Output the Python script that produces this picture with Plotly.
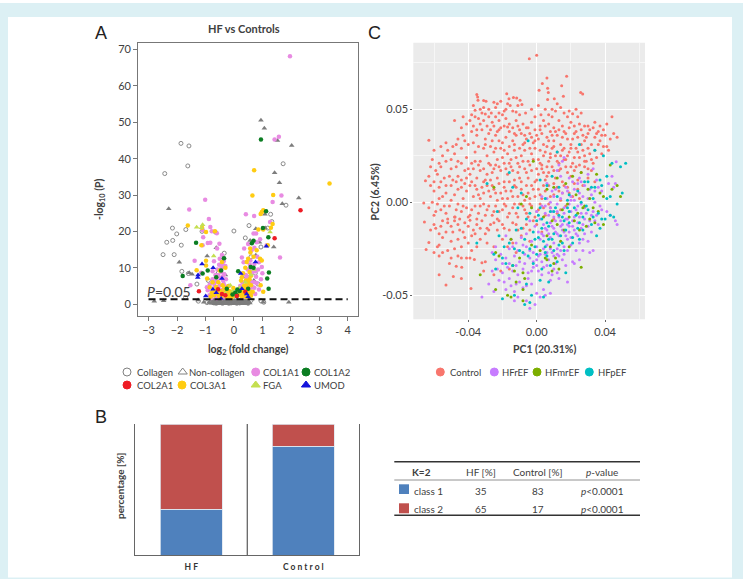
import plotly.graph_objects as go

W, H = 743, 579

# Volcano plot: (log2 fold change, -log10 P) per protein group
COLLAGEN = [(-1.86,44.2),(-1.58,43.5),(-1.62,38),(-2.43,35.9),(1.73,38.6),(1.83,27.2),(1.29,24.7),(.53,21.6),(0,20.1),(-2.16,20.9),
    (-2.01,19.3),(-1.69,20.5),(-2.15,17.5),(-2.36,17),(-1.85,16.2),(-2.1,13.6),(-2.49,13.6),(-1.83,9),(-1.12,20),(-.65,19.8),
    (-.34,14),(.4,18.2),(.95,15.7),(1.03,20.7),(1.19,20.9),(1.33,22.7),(-1.6,8.4),(-1.3,5.5),(-.9,6.5),(-.55,8.5),(-.35,12.5),
    (.6,13),(.75,8.5),(.85,5.5),(.5,4.5),(-1.7,1.8),(-1.25,.8),(-.95,.4),(.95,.9),(1.05,.5),(-.7,.3),(-.55,.9),(-.4,.2),(-.25,.7),
    (-.1,.3),(.05,.8),(.2,.3),(.35,.6),(.5,.2),(.6,1),(-.8,.8),(-.62,.2),(-.48,.5),(-.32,.9),(-.18,.2),(-.05,.6),(.1,.2),(.25,.8),(.42,.4)]
NON_COLLAGEN = [(.95,50.6),(1.07,48.4),(1.53,45),(2.03,43.6),(1.43,36.1),(1.6,33.4),(2.28,29.2),(-2.29,26.2),(1.7,27.6),(-1.92,11.5),
    (-1.57,8.6),(-1.47,8.2),(-.94,13.2),(-.62,15.5),(1.4,15.7),(1.09,24.7),(.77,20.7),(-2.8,.8),(-2.47,.9),(1.93,.5),(1.03,.5),
    (-1.06,.5),(-.88,.4),(-1.26,1.1),(-.6,6.6),(-.3,8),(.77,13.4),(.57,17.5),(1.1,20.9),(.9,17),(.7,6.5),(.3,7.5),(-.75,3.5),(-.2,5),
    (-.78,.2),(-.66,.6),(-.52,.2),(-.42,.8),(-.28,.4),(-.14,.9),(-.02,.2),(.12,.6),(.28,.2),(.38,.9),(.52,.6),(-.72,1),(-.58,.5),(-.36,.3),
    (-.22,1),(-.08,.5),(.02,1),(.16,.9),(.32,.4),(.46,.9),(-.84,.3),(-.45,.1),(.18,.1),(.56,.3),
    (-.75,.6),(-.68,.1),(-.6,.9),(-.54,.4),(-.46,.9),(-.4,.4),(-.34,.1),(-.3,.7),(-.24,.2),(-.2,.6),(-.16,.1),(-.12,.5),(-.06,1),(-.04,.1),
    (0,.5),(.04,.2),(.08,.9),(.14,.3),(.2,.6),(.24,.1),(.3,.7),(.36,.2),(.4,.6),(.44,.1),(.48,.5),(-.7,.7),(-.64,.3),(-.5,.7),(-.44,.5),(-.38,.6),(-.26,.1),(-.1,.8),(.06,.6),(.22,.4),(.34,.1),
    (-.76,1.1),(-.56,1.2),(-.32,1.2),(-.14,1.2),(.1,1.2),(.26,1.2),(.42,1.2),(-.66,1.2),(-.48,1),(-.2,1),(0,.8),(.2,1),(.5,.9),
    (-.72,.3),(-.67,.9),(-.62,.5),(-.57,.1),(-.53,.8),(-.49,.2),(-.43,.3),(-.39,.9),(-.35,.5),(-.31,.1),(-.27,.9),(-.23,.5),(-.19,.3),(-.15,.7),(-.11,.1),(-.07,.3),(-.03,.7),(.01,.3),(.03,.6),(.07,.1),
    (.11,.4),(.15,.7),(.19,.2),(.23,.7),(.27,.4),(.31,.1),(.35,.8),(.39,.3),(.43,.7),(.47,.2),(.51,.4),(-.74,.8),(-.69,.4),(-.59,.7),(-.51,.4),(-.41,.1),(-.33,.6),(-.25,.4),(-.17,.5),(-.09,.2),(.09,.4),(.17,.5),(.25,.2),(.33,.7),(.41,.1),
    (-.64,.8),(-.55,.2),(-.47,.7),(-.37,.2),(-.29,.3),(-.21,.8),(-.13,.3),(-.01,.9),(.13,.1),(.21,.8),(.29,.5),(.37,.5),(.45,.6)]
COL1A1 = [(1.97,68.2),(1.43,45.3),(1.58,46),(-1.01,28.7),(1.67,29.9),(1.36,28.1),(-1.57,26),(.42,24.7),(.71,24.2),(-.88,23.4),(-.83,21.2),
    (-1.09,20.3),(-.6,19.5),(-.78,20),(-1.08,18.4),(-.83,16.9),(-.51,16.6),(-.59,15.3),(-.92,16.8),(-1.1,16.2),(1.62,12.8),(-1.38,11.9),(-1.53,5.2),
    (1.27,22.6),(.69,19.4),(.78,19.4),(.36,15.3),(.92,17.8),(.8,17),(1.15,16.2),(.5,16.5),(.62,14.8),(.28,12.8),(.34,11.5),(.58,12),(.72,11),
    (.85,9.5),(.98,10.2),(1,8.5),(.48,9.5),(.66,8.8),(.78,7.5),(.62,6),(.44,7),(.3,6),(.52,5),(.72,4.5),(.88,4),(.4,4.2),(.22,5),(.62,3.2),(.33,2.6),
    (.18,2.8),(.5,2.4),(-.42,13.5),(-.5,12.5),(-.36,11.8),(-.52,10.8),(-.42,10),(-.3,10.5),(-.58,9.5),(-.44,8.8),(-.34,8.2),(-.65,8),(-.48,7.2),
    (-.75,6.8),(-.6,6.2),(-.38,6.5),(-.28,6.8),(-.85,5.4),(-.68,5),(-.5,5.2),(-.3,4.8),(-.92,3.8),(-.72,3.4),(-.58,3.8),(-.42,3.9),(-.22,3.6),
    (-.86,2.4),(-.66,2.2),(-.48,2.5),(-.32,2.2),(-.16,2.8),(-.8,1.7),(-.6,1.6),(-.4,1.7),(-.75,9),(-.7,11.8),(-1.15,8.6),(.56,10.8),(.3,1.9),
    (-.4,11),(-.46,9.6),(-.56,8),(-.4,7.5),(-.62,7),(-.7,5.8),(-.55,4.6),(-.36,5.6),(-.2,2),(-.12,2.2),(-.95,4.6),(.42,8),(.6,9.5),(.76,9),(.88,11.5),(.5,7.5),(.7,6),(.8,5.8),
    (.56,3.8),(.66,4.6),(.36,3),(.46,5.6),(.28,4),(.75,2.8),(.95,6.8),(.82,13),(.72,15.5)]
COL1A2 = [(.95,45.3),(1.13,25.5),(1.02,20.9),(1.21,18.4),(.69,17.4),(.63,16.7),(-1.33,16.9),(-.35,12.6),(-.92,9.2),(-1.1,8.4),(-1.8,7.7),
    (1.23,8.7),(1.17,7),(1.22,4.2),(.15,9),(.59,10.2),(.69,10),(-.45,9.2),(.05,3.2),(.12,4),(.2,3.6),(-.05,2.6),(.1,2.4),(.5,4.2),(-.25,4.2),(-.62,7.4)]
COL2A1 = [(2.34,25.8),(1.43,18.1),(-1.23,3.5),(-.56,4.1),(.4,3.4),(-.42,2.8),(-.3,2.4),(.1,2.2)]
COL3A1 = [(.71,36.8),(3.36,33.2),(.65,29.9),(1.38,30),(.98,25.3),(1.03,25.8),(.94,24.8),(1.36,22),(1.3,21),(-1.62,21.6),(-.98,19.8),(-1.14,16.2),
    (-.67,20),(-1.12,21),(.86,20.5),(1.03,20.5),(-.98,11.9),(-1.31,9.3),(-.94,7),(1.19,16.2),(.92,12.5),(.98,12),(.8,14.8),(.57,15.3),(.45,11.6),(.69,13),
    (.94,5.2),(1.03,3.4),(-.42,11.6),(-.3,10),(.58,14.2),(.5,12.5),(.4,10),(.55,8.8),(.32,8.5),(.42,6.5),(.6,7.8),(.25,6.5),(.5,6),(.35,5),(.6,5.2),(.45,4.5),
    (.2,3.6),(.32,3.5),(.48,3.2),(.15,2.4),(.28,2.1),(.42,2),(.6,2.3),(-.85,4.6),(-.78,3.1),(-.62,4.7),(-.52,2.2),(-.4,5.2),(-.3,3.9),(-.2,4.9),(-.12,3.4),
    (-.02,4.4),(-.36,3),(-.26,2.1),(-.16,2.5),(-.05,2.1),(.02,2.9),(-.44,1.8),(-.7,2.4),(-.82,2),(-.1,1.7),(-.55,6),(-.75,6),(-.5,9.2),(-.98,10.6),
    (-.34,4.4),(-.24,3.2),(-.3,2.8),(-.18,3.6),(-.08,2.8),(-.2,1.8),(-.58,3),(-.46,3.6),(-.66,3.8),(.3,2.8),(.38,4),(.52,3.8),(.24,2.4),(.38,2.5),(.55,2.9),(.66,3.4),(.44,5.4),(.55,6.8),(.28,7.4)]
FGA = [(-1.31,21.1),(-1.1,21.8),(-1.14,21),(-.71,13.2),(1.27,19.8),(-.13,5.2),(-.05,3.5),(.2,4.5),(.4,6),(.6,8),(-.3,3),(.5,4),(.08,2),(.7,9.5)]
UMOD = [(1.14,15.9),(-1.12,11),(-.73,10),(-1.27,7.3),(-1.26,8),(.76,11.6),(.24,8.4),(-.99,2.2),(-.74,4.1),(-.62,3.1),(-.45,1.5),(-.42,7),(.28,4.2),(.45,2.8),(.5,2)]
P_LEVEL = 1.3

# PCA scores in thousandths of a unit: (PC1, PC2) per patient group
CONTROL = [(-4.3,77.2),(0,79),(6,66.8),(17.5,67.7),(3.3,63.8),(14.6,62.7),(1.4,60.2),(6.4,61.3),(6.8,59),(25.7,59),(26.9,58.2),(15.6,57),(6.4,55.2),(10.3,55.7),
    (-35,58),(-34.5,56.6),(-34.3,54.8),(-31,54.7),(-29.6,54.3),(-25,53.8),(-21,54.3),(-17.5,58.4),(-16.2,55.7),(-13.6,56.3),(-11.7,56.1),(-9.7,54.8),(-8.6,52.5),
    (-11,52),(-15.5,52),(-17,53),(-33,50),(-36,49.5),(-28,50),(-24,51),(-22,48),(-20,47),(-18,50),(-14,49),(1,52),(5,50),(9,50),(12,53),(14,51),(19,49),(21,47.6),(23,50),
    (-48,44),(-43,46),(-38,47),(-36,46),(-34,45),(-32,48),(-30,47.5),(-28,46),(-33,42),(-29,41),(-26,43),(-24,46),(-22,44),(-21,40),(-18,45),(-16,42),(-14,40),(-12,44),(-10,47),
    (-8,42),(-6,40),(-3,43),(-1,46),(2,41),(4,44),(7,42),(9,46),(10,40),(13,44),(15,41),(18,46),(20,43),(22,41),(25,42),(28,41),(30,41),(33,40),(37,41),(39,39),(41,42),(44,46),(47,35),
    (-38,38),(-35,36),(-32,39),(-30,34),(-28,37),(-26,33),(-24,36),(-22,39),(-20,32),(-18,35),(-16,38),(-14,33),(-12,36),(-10,39),(-8,31),(-6,34),(-4,37),(-2,32),(0,36),(2,39),(4,31),
    (6,35),(8,38),(10,33),(12,36),(14,31),(16,38),(18,34),(20,31),(22,37),(24,35),(26,39),(28,33),(30,37),(32,31),(34,35),(37,33),(41,30),(-63,33.3),(-42,33),(-47,31),
    (-60,28),(-55,25),(-52,28),(-50,23),(-48,26),(-46,22),(-44,29),(-41,24),(-38,21),(-36,27),(-33,22),(-31,29),(-29,25),(-27,20),(-25,27),(-23,23),(-21,29),(-19,21),(-17,26),(-15,23),
    (-13,28),(-11,21),(-9,25),(-7,28),(-5,22),(-3,26),(-1,29),(1,23),(3,20),(5,27),(7,22),(9,29),(11,25),(13,21),(15,28),(17,23),(19,27),(21,21),(23,29),(25,24),(27,28),(29,22),(31,26),(34,28),(38,26),(42,28),
    (-61,23),(-57,21),(-58,15),(-54,13),(-51,14),(-49,12),(-46,14),(-44,12),(-42,10),(-39,15),(-37,18),(-35,13),(-33,17),(-31,11),(-29,15),(-27,12),(-25,18),(-23,13),(-21,17),(-19,11),(-17,15),(-15,19),(-13,12),
    (-11,16),(-9,11),(-7,18),(-5,13),(-3,17),(-1,11),(1,15),(3,18),(5,12),(7,16),(9,19),(11,13),(13,17),(15,11),(17,19),(20,14),(22,17),(24,12),(26,16),(28,19),(30,13),(32,17),(34,11),
    (-65,11.5),(-62,9),(-60,6),(-57,8),(-55,3),(-53,5),(-50,9),(-48,4),(-46,7),(-43,2),(-41,6),(-39,9),(-37,3),(-35,7),(-33,2),(-31,5),(-29,9),(-27,3),(-25,7),(-23,1),(-21,5),(-19,8),(-17,2),(-15,6),(-13,9),
    (-11,3),(-9,7),(-7,1),(-5,5),(-3,9),(-1,3),(1,7),(3,2),(5,6),(7,9),(10,4),(12,8),(15,5),(18,8),(21,3),(24,7),(27,9),
    (-66,-.5),(-63,-3),(-60,-7),(-58,-1),(-56,-4),(-53,-6),(-51,-2),(-48,-8),(-46,-1),(-44,-5),(-41,-3),(-39,-7),(-36,-2),(-34,-6),(-31,-1),(-29,-4),(-26,-7),(-24,-2),(-22,-5),(-19,-1),(-17,-8),(-14,-3),(-12,-6),
    (-10,-1),(-7,-4),(-5,-8),(-3,-2),(0,-5),(2,-1),(5,-7),(8,-3),(12,-6),
    (-65.6,-10.6),(-62,-15),(-60,-12),(-57,-17),(-55,-10),(-52,-11),(-50,-13),(-48,-10),(-47.7,-7.9),(-45,-15),(-42,-11),(-39,-9.7),(-37,-15),(-35,-12),(-32,-10),(-29,-14),(-27,-12),(-22,-10),(-19,-14),(-14,-11),(-11,-15),(-6,-12),(-2,-10),
    (-64.6,-25.4),(-63,-21.7),(-58,-24),(-57,-23),(-55,-19),(-52,-26),(-50,-21),(-48,-25),(-46,-20),(-44,-24),(-42,-19),(-40,-22),(-38,-18),(-35,-24),(-28,-15),(-9,-18),(-4,-21),(-14,-22),
    (-57,-39),(-53,-44.6),(-38.4,-46.4),(-48.7,-40),(-47,-34.4),(-43.8,-35),(-57,-29),(-50,-30),(-41,-30),(-39,-30),(-36.4,-30.8),(-32,-32.6),(-30,-32),(-25,-39),(-21,-37),(-16,-36),
    # second pass over the same regions
    (-37,52),(-31,51),(-26.5,48),(-23,53),(-19,49),(-12,48.5),(-6.5,48),(-3,50),(2.5,47),(7,47),(11,49),(16,48),(24,46),(26,48),(34,43),(36,38),(40,36),(43,34),(45,37),
    (-44,40),(-41,42),(-39,44),(-37,41),(-35,39),(-31,44),(-27,39),(-25,41),(-23,38),(-19,41),(-17,40.5),(-13,37),(-11,41),(-9,37),(-7,36),(-5,40),(-3,35),(-1,39),(1,34),(3,37),(5,41),(7,33),(9,36),(11,38),(13,39),(15,35),(17,37),(19,40),(21,34),(23,38),(27,36),(29,35),(31,39),(35,37),(38,36),
    (-56,30),(-53,32),(-49,30),(-46,34),(-43,36),(-40,31),(-37,32),(-34,30),(-30,31),(-27,30),(-24,29),(-22,33),(-19,28),(-16,30),(-13,31),(-10,29),(-7,32),(-4,29),(-1,33),(2,28),(4,25),(6,30),(8,26),(10,30),(12,27),(14,25),(16,29),(18,25),(20,29),(22,24),(24,27),(26,31),(28,25),(30,29),(32,23),(35,24),(36,31),(39,30),
    (-62,19),(-59,17),(-56,19),(-53,22),(-50,18),(-47,19),(-44,21),(-42,17),(-40,18),(-36,22),(-34,20),(-31,18),(-28,21),(-26,16),(-24,20),(-22,19),(-20,24),(-18,18),(-16,21),(-14,17),(-12,24),(-10,19),(-8,22),(-6,16),(-4,20),(-2,23),(0,18),(2,21),(4,16),(6,19),(8,24),(10,17),(12,22),(14,18),(16,23),(18,16),(20,19),(23,19),(25,20),(28,22),(30,18),(33,21),
    (-63,14),(-60,11),(-56,11),(-53,9),(-47,11),(-44,8),(-41,13),(-38,11),(-36,9),(-34,4),(-32,8),(-30,12),(-28,6),(-26,9),(-24,5),(-22,10),(-20,2),(-18,6),(-16,11),(-14,3),(-12,8),(-10,13),(-8,4),(-6,9),(-4,2),(-2,7),(0,12),(2,4),(4,9),(6,14),(8,3),(10,10),(13,6),(16,9),(19,5),(22,10),(25,2),(14,1),
    (-61,0),(-59,-5),(-57,2),(-54,-2),(-52,-9),(-50,1),(-47,-4),(-45,-9),(-43,-2),(-40,-8),(-38,-4),(-35,-9),(-33,-2),(-30,-7),(-28,-2),(-25,-5),(-23,-9),(-20,-4),(-18,-2),(-16,-6),(-13,-1),(-11,-8),(-8,-2),(-6,-6),(-4,-1),(-1,-8),(1,-4),(4,-3),(7,-1),(10,-9),(14,-4),(17,-2),
    (-59,-14),(-56,-13),(-53,-16),(-49,-16),(-46,-12),(-43,-16),(-40,-13),(-36,-17),(-33,-14),(-30,-17),(-25,-11),(-23,-15),(-20,-12),(-16,-15),(-12,-12),(-8,-14),(-4,-15),(0,-12),(3,-16),
    (-60,-27),(-55,-27),(-51,-33),(-46,-29),(-44,-30),(-38,-26),(-33,-20),(-29,-22),(-25,-24),(-20,-20),(-17,-24),(-12,-27),(-31,-37),(-44,-41)]
HFREF = [(46.5,21.8),(16,24),(15,22),(13,20),(12,17),(25,13),(30,15),(33,18),(35,12),(44,14),(42,10),(36,8),(28,9),(24,10),(21,11),(17,8),(15,5),(11,7),(10,3),(20,3),(25,5),(32,4),(38,6),(45,8),(46,10),
    (6,2),(8,0),(3,3),(12,-1),(16,-3),(19,-1),(22,1),(26,-1),(30,2),(34,0),(37,-2),(41,-5),(46,-10),(47,-12),(43,-7),
    (0,-5),(3,-2),(5,-6),(8,-3),(10,-8),(12,-5),(14,-10),(16,-6),(18,-9),(20,-5),(22,-8),(24,-11),(26,-6),(28,-9),(30,-13),(32,-7),(34,-10),(36,-12),
    (-4,-10),(-1,-13),(2,-9),(4,-12),(6,-15),(8,-11),(10,-14),(12,-17),(14,-13),(16,-16),(18,-12),(20,-19),(22,-15),(24,-18),(26,-14),(28,-17),(30,-21),(32,-16),(-18,-18),(-15,-20),(-12,-22),(-9,-19),(-6,-17),
    (-3,-21),(0,-24),(2,-20),(4,-18),(6,-23),(8,-19),(10,-22),(12,-25),(14,-21),(16,-24),(18,-20),(20,-23),(23,-26),(27,-26),(31,-27),(33,-26),
    (-26,-27),(-24,-31),(-21,-28),(-16,-25),(-13,-29),(-10,-32),(-7,-28),(-4,-30),(-2,-27),(1,-29),(3,-32),(5,-28),(7,-31),(9,-27),(11,-33),(13,-29),(15,-31),(17,-34),(21,-32),(25,-31),(22,-33),
    (-26,-37),(-23,-36),(-20,-38),(-17,-35),(-14,-37),(-11,-39),(-8,-36),(-5,-38),(-2,-35),(1,-37),(4,-35),(7,-38),(10,-36),(13,-41),(18,-43),(8,-42),
    (-32,-51),(-28,-44),(-25,-48),(-19,-43),(-18,-47),(-15,-45),(-13,-48),(-10,-43),(-8,-46),(-5,-41),(-3,-44),(0,-49),(4,-47),(2,-51),(5,-50),(8,-49),(-4,-57),(-1,-55),(-6,-53),(-11,-51),(-13,-53),
    # second pass, mostly the dense lower right
    (5,-2),(7,-7),(9,-5),(11,-10),(13,-8),(15,-12),(17,-9),(19,-13),(21,-10),(23,-4),(25,-8),(27,-12),(29,-6),(31,-10),(33,-5),(9,-13),(11,-16),(13,-18),(15,-15),(17,-18),(19,-16),(21,-13),(23,-17),(25,-22),(27,-20),(7,-17),(5,-14),(3,-17),(1,-16),
    (4,-25),(6,-27),(8,-25),(10,-29),(12,-28),(14,-26),(16,-28),(18,-26),(2,-28),(0,-31),(-2,-32),(-4,-26),(-6,-24),(-8,-23),(-11,-26),(-14,-24),(-18,-30),(-16,-33),(-12,-34),(-7,-33),(-3,-37),(0,-34),(3,-39),(6,-34),(9,-39),(12,-38),(-20,-33),(-22,-42),(-16,-41),(-12,-44),(-6,-45),(-24,-24),
    (6,10),(9,6),(14,2),(18,6),(22,7),(27,3),(31,7),(34,6),(26,11),(19,13),(14,14),(28,-3),(24,-2),(20,1),(35,-7),(38,-4)]
HFMREF = [(-2,22),(-25,8),(-9,-1),(-6,3),(-3,-3),(6,7),(10,8),(12,13),(21,14),(26,16),(35,15),(43,20),(47,9),(49,3),(37,5),(30,7),(23,4),(18,-1),(28,-2),(33,-3),(36,-5),(31,-9),(27,-3),(22,-10),(25,-15),(34,-11),(39,-12),
    (16,-15),(12,-12),(6,-18),(2,-26),(8,-24),(11,-30),(5,-30),(9,-37),(13,-36),(26,-35),(-24,-27),(-22,-29),(-33,-39),(-10,-30),(-8,-38),(-7,-41),(-12,-43),(-24,-47),(-8,-47),(-15,-51),(-17,-50),(-8,-53),(-14,-34),(-15,-20),
    (4,-8),(9,-10),(15,-4),(19,-8),(24,-6),(29,-13),(14,-21),(19,-24),(6,-31),(10,-33),(-3,-23),(-13,-37),(39,3),(44,7),(17,10),(31,2)]
HFPEF = [(-5,33),(12,27),(25,31),(34,28),(39,25),(44,21),(52,21),(49,19),(41,14),(37,12),(32,8),(28,11),(24,6),(19,4),(13,8),(9,14),(6,9),(2,12),(-16,16),(-29,10),(-14,8),(-9,5),(5,2),(12,3),(18,1),(26,0),(33,2),(41,2),(47,-1),(50,5),
    (-23,-5),(-11,-3),(-4,-6),(3,-9),(8,-5),(13,-7),(19,-5),(25,-11),(30,-4),(36,-6),(38,-9),(37,-14),(43,-7),(45,-8),
    (-35,-22),(-22,-18),(-12,-15),(-2,-16),(3,-14),(7,-20),(10,-17),(14,-18),(17,-15),(21,-19),(27,-15),(25,-20),(35,-18),(1,-19),(5,-24),(10,-26),(16,-26),(-4,-25),(-10,-26),
    (-25,-28),(-24,-36),(-20,-30),(-14,-34),(-8,-27),(-2,-33),(3,-36),(8,-34),(12,-32),(17,-38),(2,-42),(7,-43),(-6,-44),(-20,-52),(-13,-50),(-7,-55),(-3,-50),(-4,-54),(4,-51),
    (2,-3),(6,-11),(11,-3),(16,-10),(22,-3),(27,-8),(32,-12),(0,-10),(-1,-20),(4,-21),(9,-20),(13,-23),(19,-11),(24,-14),(-7,-20),(-13,-25),(-19,-24),(0,-28),(5,-27),(34,8),(30,11),
    (1,-7),(7,-13),(10,-5),(15,-8),(18,-3),(23,-7),(29,-2),(33,-8),(40,-9),(-6,-9),(-9,-14),(-16,-22),(-18,-33),(-5,-29),(-1,-24),(6,-29),(15,-22),(21,-22),(38,9),(43,3)]

VOLCANO_GROUPS = [
    ("Collagen", COLLAGEN, "circle-open", "#8a8a8a", 4),
    ("Non-collagen", NON_COLLAGEN, "triangle-up", "#7d7d7d", 5),
    ("COL1A1", COL1A1, "circle", "#e88be2", 4.5),
    ("COL3A1", COL3A1, "circle", "#ffcc12", 4.5),
    ("FGA", FGA, "triangle-up", "#c4df50", 5),
    ("COL1A2", COL1A2, "circle", "#0b7d22", 4.5),
    ("COL2A1", COL2A1, "circle", "#ee1c25", 4.5),
    ("UMOD", UMOD, "triangle-up", "#1414dc", 5),
]
PCA_GROUPS = [
    ("Control", CONTROL, "#F8766D"),
    ("HFrEF", HFREF, "#C77CFF"),
    ("HFmrEF", HFMREF, "#7CAE00"),
    ("HFpEF", HFPEF, "#00BFC4"),
]

# Latent class summary
CLASSES = ["class 1", "class 2"]
CLASS_COLORS = ["#4f81bd", "#c0504d"]
HF_PCT = [35, 65]
CONTROL_PCT = [83, 17]
P_TEXT = ["p<0.0001", "p<0.0001"]
BAR_GROUPS = ["HF", "Control"]
BAR_LABELS = ["H F", "C o n t r o l"]

SANS = "Lato"
INK = "#404040"


def dom_x(a, b):
    return [a / W, b / W]


def dom_y(top, bottom):
    return [1 - bottom / H, 1 - top / H]


def note(text, px, py, size=10, color=INK, angle=0, anchor="center", family=SANS):
    return dict(text=text, x=px / W, y=1 - py / H, xref="paper", yref="paper", showarrow=False,
                xanchor=anchor, yanchor="middle", textangle=angle, font=dict(family=family, size=size, color=color))


fig = go.Figure()

# Panel A: volcano plot
for name, pts, symbol, color, size in VOLCANO_GROUPS:
    fig.add_trace(go.Scatter(
        x=[p[0] for p in pts], y=[p[1] for p in pts], mode="markers", name=name, xaxis="x", yaxis="y",
        marker=dict(symbol=symbol, color=color, size=size, line=dict(width=1 if symbol.endswith("open") else 0, color=color)),
        showlegend=False))
fig.add_trace(go.Scatter(x=[-3, 4], y=[P_LEVEL, P_LEVEL], mode="lines", xaxis="x", yaxis="y", showlegend=False,
                         line=dict(color="#111111", width=2, dash="7px,4px")))

# Panel C: PCA scores
for name, pts, color in PCA_GROUPS:
    fig.add_trace(go.Scatter(
        x=[p[0] / 1000 for p in pts], y=[p[1] / 1000 for p in pts], mode="markers", name=name, xaxis="x2", yaxis="y2",
        marker=dict(color=color, size=3, line=dict(width=0)), showlegend=False))

# Panel B: stacked class shares
for i, cls in enumerate(CLASSES):
    fig.add_trace(go.Bar(x=BAR_GROUPS, y=[HF_PCT[i], CONTROL_PCT[i]], name=cls, xaxis="x3", yaxis="y3", width=0.554,
                         marker=dict(color=CLASS_COLORS[i], line=dict(color="#dfe6ef", width=0.8)), showlegend=False))

# Legend keys, placed on an invisible page-sized axis pair
KEY_A = [(127, 372, "circle-open", "#808080", "Collagen", 134.5), (182.7, 372, "triangle-up-open", "#808080", "Non-collagen", 186.5),
         (255.7, 372, "circle", "#e88be2", "COL1A1", 260.5), (306, 372, "circle", "#0b7d22", "COL1A2", 311.5),
         (127, 385, "circle", "#ee1c25", "COL2A1", 134.5), (182, 385, "circle", "#ffcc12", "COL3A1", 188),
         (255.7, 385, "triangle-up", "#c4df50", "FGA", 260.5), (306, 385, "triangle-up", "#1414dc", "UMOD", 311.5)]
KEY_C = [(440.3, 372, "circle", "#F8766D", "Control", 448), (494.3, 372, "circle", "#C77CFF", "HFrEF", 499.5),
         (537, 372, "circle", "#7CAE00", "HFmrEF", 542.5), (589.3, 372, "circle", "#00BFC4", "HFpEF", 595.5)]
KEYS = KEY_A + KEY_C
fig.add_trace(go.Scatter(
    x=[k[0] for k in KEYS], y=[k[1] for k in KEYS], mode="markers", xaxis="x4", yaxis="y4", showlegend=False, hoverinfo="skip",
    marker=dict(symbol=[k[2] for k in KEYS], color=[k[3] for k in KEYS], size=8, line=dict(width=1, color=[k[3] for k in KEYS]))))

notes = [
    note("A", 100.5, 33, 18, "#222222", family="Liberation Sans"),
    note("B", 100.5, 417, 18, "#222222", family="Liberation Sans"),
    note("C", 374.5, 33, 18, "#222222", family="Liberation Sans"),
    note("<b>HF vs Controls</b>", 244, 28, 11),
    note("<b>log<sub>2</sub> (fold change)</b>", 248, 350, 10.5),
    note("<b>-log<sub>10</sub> (P)</b>", 100, 199, 10.5, angle=-90),
    note("<i>P</i>=0.05", 169, 291.5, 14),
    note("<b>PC1 (20.31%)</b>", 544, 349, 10.5),
    note("<b>PC2 (6.45%)</b>", 374.5, 192, 10.5, angle=-90),
    note("<b>percentage [%]</b>", 120, 486, 10, angle=-90),
]
for k in KEYS:
    notes.append(note(k[4], k[5], k[1], 9.5, anchor="left"))

# Table beside the bars
COLUMNS_X = [480.7, 538.3, 602.3]
notes += [note("<b>K=2</b>", 421.7, 471.7, 10), note("HF [%]", COLUMNS_X[0], 471.7, 10),
          note("Control [%]", COLUMNS_X[1], 471.7, 10), note("<i>p</i>-value", COLUMNS_X[2], 471.7, 10)]
ROWS_Y = [491.3, 509.3]
for i, cls in enumerate(CLASSES):
    notes += [note(cls, 412, ROWS_Y[i], 10, anchor="left"),
              note(str(HF_PCT[i]), COLUMNS_X[0], ROWS_Y[i], 10),
              note(str(CONTROL_PCT[i]), COLUMNS_X[1], ROWS_Y[i], 10),
              note(P_TEXT[i].replace("p", "<i>p</i>"), COLUMNS_X[2], ROWS_Y[i], 10)]


def paper_rect(x0, y0, x1, y1, fill, layer="below"):
    return dict(type="rect", xref="paper", yref="paper", x0=x0 / W, x1=x1 / W, y0=1 - y0 / H, y1=1 - y1 / H,
                fillcolor=fill, line=dict(width=0), layer=layer)


def paper_rule(x0, x1, y, width, color="#333333"):
    return dict(type="line", xref="paper", yref="paper", x0=x0 / W, x1=x1 / W, y0=1 - y / H, y1=1 - y / H,
                line=dict(color=color, width=width))


shapes = [
    paper_rect(0, 3, W, H, "#dcf0f4"),
    paper_rect(8, 17, 732, 577.5, "#ffffff"),
    paper_rect(413.3, 42.7, 645, 319.3, "#ebebeb"),
    paper_rule(394.3, 640, 461.7, 1.4),
    paper_rule(394.3, 640, 480, 0.8, "#777777"),
    paper_rule(394.3, 640, 515.3, 1.4),
    paper_rect(399, 484.3, 409, 494, CLASS_COLORS[0], "above"),
    paper_rect(399, 503.3, 409, 513.3, CLASS_COLORS[1], "above"),
    dict(type="line", xref="x3", yref="y3", x0=0.5, x1=0.5, y0=0, y1=100, line=dict(color="#666666", width=1.3)),
]

frame = dict(showline=True, linecolor="#777777", linewidth=1.2, mirror=True, showgrid=False, zeroline=False,
             ticks="outside", ticklen=4, tickcolor="#777777", tickwidth=1,
             tickfont=dict(family=SANS, size=11, color=INK), fixedrange=True)
pca_axis = dict(showline=False, showgrid=True, gridcolor="#ffffff", gridwidth=1, zeroline=False,
                ticks="outside", ticklen=2, tickcolor="#666666", tickfont=dict(family=SANS, size=11, color=INK),
                fixedrange=True)

fig.update_layout(
    width=W, height=H, autosize=False, margin=dict(l=0, r=0, t=0, b=0),
    paper_bgcolor="#ffffff", plot_bgcolor="rgba(0,0,0,0)", showlegend=False, barmode="stack",
    annotations=notes, shapes=shapes,
    xaxis=dict(frame, domain=dom_x(138.3, 357.7), range=[-3.36, 4.35], tickmode="linear", tick0=-3, dtick=1),
    yaxis=dict(frame, domain=dom_y(42.7, 315.7), range=[-3.2, 71.9], tickmode="linear", tick0=0, dtick=10),
    xaxis2=dict(pca_axis, domain=dom_x(413.3, 645), range=[-0.0721, 0.0633], tickmode="array",
                tickvals=[-0.04, 0, 0.04], ticktext=["-0.04", "0.00", "0.04"], anchor="y2",
                minor=dict(showgrid=True, gridcolor="#f6f6f6", gridwidth=0.6, tickvals=[-0.06, -0.02, 0.02, 0.06])),
    yaxis2=dict(pca_axis, domain=dom_y(42.7, 319.3), range=[-0.063, 0.0858], tickmode="array",
                tickvals=[-0.05, 0, 0.05], ticktext=["-0.05", "0.00", "0.05"], anchor="x2",
                minor=dict(showgrid=True, gridcolor="#f6f6f6", gridwidth=0.6, tickvals=[-0.025, 0.025, 0.075])),
    xaxis3=dict(domain=dom_x(135.3, 359.3), range=[-0.5, 1.5], anchor="y3", type="category", categoryorder="array",
                categoryarray=BAR_GROUPS, tickmode="array", tickvals=BAR_GROUPS, ticktext=BAR_LABELS, showline=True,
                linecolor="#666666", linewidth=1.3, showgrid=False, ticks="", fixedrange=True, ticklabelstandoff=4,
                tickfont=dict(family=SANS, size=8.5, color="#333333", weight="bold")),
    yaxis3=dict(domain=dom_y(424, 555), range=[0, 100], anchor="x3", showline=True, mirror=True, linecolor="#666666",
                linewidth=1.3, showgrid=False, zeroline=False, showticklabels=False, ticks="", fixedrange=True),
    xaxis4=dict(domain=[0, 1], range=[0, W], anchor="y4", visible=False, fixedrange=True),
    yaxis4=dict(domain=[0, 1], range=[H, 0], anchor="x4", visible=False, fixedrange=True),
)

fig.write_html("out.html")
